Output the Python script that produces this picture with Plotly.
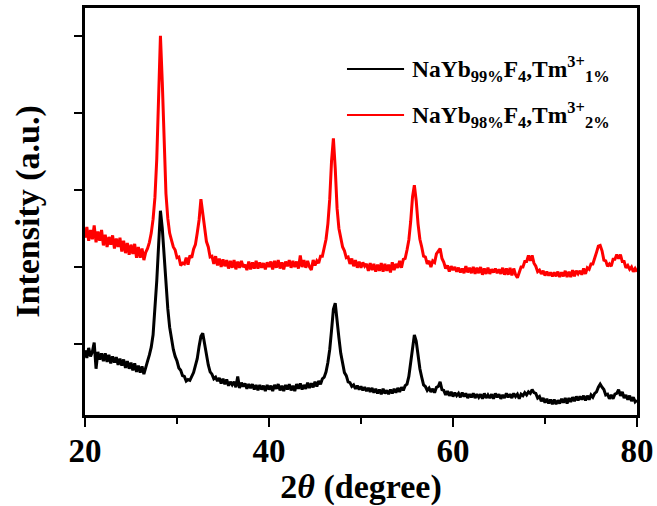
import numpy as np
import plotly.graph_objects as go

# 2-theta grid: 20.0 .. 80.0 in 0.2 degree steps (301 points)
two_theta = np.round(np.arange(0, 301) * 0.2 + 20.0, 1)

# NaYb99%F4,Tm3+1% (black) - intensity (a.u.)
black_intensity = [
    92, 82, 95, 84, 90, 102, 68, 90, 80, 88,      # 20.0-21.8
    78, 88, 77, 86, 75, 84, 76, 83, 73, 81,       # 22.0-23.8
    72, 80, 69, 78, 68, 76, 66, 75, 64, 72,       # 24.0-25.8
    63, 71, 61, 68, 78, 86, 96, 112, 142, 182,    # 26.0-27.8
    228, 273, 250, 212, 176, 146, 122, 106, 93, 84,  # 28.0-29.8
    78, 69, 66, 59, 58, 52, 54, 53, 59, 63,       # 30.0-31.8
    72, 81, 97, 110, 114, 101, 83, 73, 64, 61,    # 32.0-33.8
    55, 57, 52, 56, 49, 55, 48, 54, 46, 51,       # 34.0-35.8
    47, 51, 44, 58, 43, 50, 45, 49, 42, 48,       # 36.0-37.8
    43, 48, 41, 47, 40, 47, 41, 46, 39, 47,       # 38.0-39.8
    41, 46, 39, 47, 42, 48, 40, 46, 39, 47,       # 40.0-41.8
    41, 48, 40, 46, 39, 48, 42, 49, 41, 47,       # 42.0-43.8
    42, 50, 43, 49, 44, 51, 45, 52, 48, 55,       # 44.0-45.8
    57, 64, 76, 93, 118, 145, 153, 134, 108, 88,  # 46.0-47.8
    75, 63, 59, 51, 50, 45, 47, 42, 46, 41,       # 48.0-49.8
    45, 40, 44, 39, 43, 38, 43, 37, 42, 36,       # 50.0-51.8
    41, 35, 42, 36, 40, 35, 41, 36, 42, 37,       # 52.0-53.8
    43, 38, 44, 40, 46, 48, 58, 75, 98, 112,      # 54.0-55.8
    104, 85, 68, 57, 47, 45, 40, 43, 38, 42,      # 56.0-57.8
    37, 44, 45, 51, 41, 40, 34, 39, 33, 38,       # 58.0-59.8
    32, 37, 33, 36, 31, 37, 32, 36, 30, 35,       # 60.0-61.8
    31, 36, 30, 35, 31, 35, 29, 36, 30, 34,       # 62.0-63.8
    30, 35, 29, 36, 31, 35, 29, 34, 30, 36,       # 64.0-65.8
    31, 35, 30, 36, 32, 35, 29, 35, 33, 37,       # 66.0-67.8
    34, 38, 36, 41, 37, 36, 30, 32, 26, 30,       # 68.0-69.8
    24, 29, 23, 28, 22, 28, 22, 27, 23, 29,       # 70.0-71.8
    24, 30, 23, 30, 25, 31, 26, 32, 27, 32,       # 72.0-73.8
    28, 33, 27, 33, 28, 34, 31, 36, 38, 44,       # 74.0-75.8
    48, 44, 41, 34, 35, 29, 34, 29, 35, 36,       # 76.0-77.8
    41, 33, 38, 30, 34, 28, 33, 26, 31, 25,       # 78.0-79.8
    27,                                           # 80.0
]

# NaYb98%F4,Tm3+2% (red) - intensity (a.u., offset)
red_intensity = [
    238, 252, 234, 248, 236, 254, 232, 246, 234, 248,  # 20.0-21.8
    228, 242, 226, 239, 229, 241, 224, 237, 226, 238,  # 22.0-23.8
    220, 234, 218, 231, 216, 229, 217, 230, 212, 226,  # 24.0-25.8
    212, 224, 209, 219, 224, 232, 244, 262, 290, 340,  # 26.0-27.8
    420, 500, 440, 350, 295, 263, 244, 235, 226, 222,  # 28.0-29.8
    212, 213, 202, 205, 204, 212, 203, 215, 212, 223,  # 30.0-31.8
    229, 244, 261, 288, 271, 251, 233, 226, 213, 214,  # 32.0-33.8
    204, 214, 202, 211, 200, 210, 201, 209, 198, 208,  # 34.0-35.8
    199, 209, 197, 207, 199, 208, 200, 203, 196, 207,  # 36.0-37.8
    197, 206, 198, 208, 198, 206, 199, 205, 197, 206,  # 38.0-39.8
    200, 207, 197, 208, 199, 209, 198, 206, 197, 207,  # 40.0-41.8
    201, 209, 199, 208, 200, 207, 198, 215, 200, 209,  # 42.0-43.8
    199, 208, 200, 196, 209, 202, 208, 205, 214, 214,  # 44.0-45.8
    224, 236, 256, 288, 338, 367, 328, 276, 250, 236,  # 46.0-47.8
    226, 221, 212, 213, 204, 211, 201, 209, 199, 207,  # 48.0-49.8
    199, 206, 201, 204, 195, 205, 196, 204, 194, 203,  # 50.0-51.8
    195, 205, 194, 204, 195, 203, 193, 206, 196, 204,  # 52.0-53.8
    199, 208, 199, 210, 211, 222, 235, 259, 291, 306,  # 54.0-55.8
    286, 256, 236, 226, 214, 213, 204, 208, 200, 208,  # 56.0-57.8
    206, 217, 220, 224, 211, 206, 198, 202, 194, 201,  # 58.0-59.8
    196, 200, 194, 199, 193, 198, 192, 201, 193, 199,  # 60.0-61.8
    192, 200, 191, 199, 192, 200, 190, 198, 191, 199,  # 62.0-63.8
    191, 197, 193, 198, 192, 197, 191, 199, 190, 198,  # 64.0-65.8
    190, 199, 189, 198, 190, 186, 193, 200, 200, 207,  # 66.0-67.8
    207, 215, 208, 215, 205, 201, 194, 196, 191, 195,  # 68.0-69.8
    189, 194, 189, 193, 188, 193, 188, 194, 187, 193,  # 70.0-71.8
    188, 195, 187, 194, 187, 196, 188, 195, 191, 195,  # 72.0-73.8
    190, 198, 191, 199, 197, 204, 204, 213, 219, 227,  # 74.0-75.8
    228, 221, 209, 208, 201, 204, 201, 210, 210, 216,  # 76.0-77.8
    211, 216, 207, 207, 199, 202, 197, 200, 194, 198,  # 78.0-79.8
    194,                                               # 80.0
]

series_names = [
    "NaYb<sub>99%</sub>F<sub>4</sub>,Tm<sup>3+</sup><sub>1%</sub>",
    "NaYb<sub>98%</sub>F<sub>4</sub>,Tm<sup>3+</sup><sub>2%</sub>",
]
series_colors = ["#000000", "#ff0000"]

x_tickvals = [20, 40, 60, 80]
y_tickvals = [100, 200, 300, 400, 500]

FONT = "Liberation Serif"

fig = go.Figure()
for yv, name, col in zip([black_intensity, red_intensity], series_names, series_colors):
    fig.add_trace(go.Scatter(x=two_theta, y=yv, mode="lines", name=name,
                             line=dict(color=col, width=3), showlegend=False))

# manual legend (lines + text) to match the reference geometry
legend_rows_y = [0.850, 0.737]
for name, col, ly in zip(series_names, series_colors, legend_rows_y):
    fig.add_shape(type="line", xref="paper", yref="paper", x0=0.4746, x1=0.578,
                  y0=ly, y1=ly, line=dict(color=col, width=2))
    fig.add_annotation(xref="paper", yref="paper", x=0.589, y=ly, xanchor="left",
                       yanchor="middle", showarrow=False, text=name,
                       font=dict(family=FONT, size=23.5, color="#000000", weight="bold"))

fig.update_layout(
    width=657, height=506,
    margin=dict(l=85, r=20, t=8, b=91),
    paper_bgcolor="white", plot_bgcolor="white",
    showlegend=False,
)
fig.update_xaxes(
    range=[20, 80], tickvals=x_tickvals, ticks="outside", ticklen=9, tickwidth=2,
    tickcolor="black", showline=True, linecolor="black", linewidth=2.5, mirror=True,
    showgrid=False, zeroline=False, ticklabelstandoff=-4, automargin=False,
    minor=dict(ticks="outside", dtick=10, ticklen=6, tickwidth=2, tickcolor="black"),
    tickfont=dict(family=FONT, size=33, color="black", weight="bold"),
    title=dict(text="2<i>θ</i> (degree)", standoff=1,
               font=dict(family=FONT, size=34, color="black", weight="bold")),
)
fig.update_yaxes(
    range=[8, 536], tickvals=y_tickvals, showticklabels=False, ticks="outside",
    ticklen=8, tickwidth=2, tickcolor="black", showline=True, linecolor="black",
    linewidth=2.5, mirror=True, showgrid=False, zeroline=False, automargin=False,
    title=dict(text="Intensity (a.u.)", standoff=25,
               font=dict(family=FONT, size=34, color="black", weight="bold")),
)

# remove the default 8px page margin so the figure fills the window exactly
fig.write_html("out.html",
               config={"displayModeBar": False},
               post_script="document.body.style.margin='0px';"
                           "document.body.style.overflow='hidden';")
